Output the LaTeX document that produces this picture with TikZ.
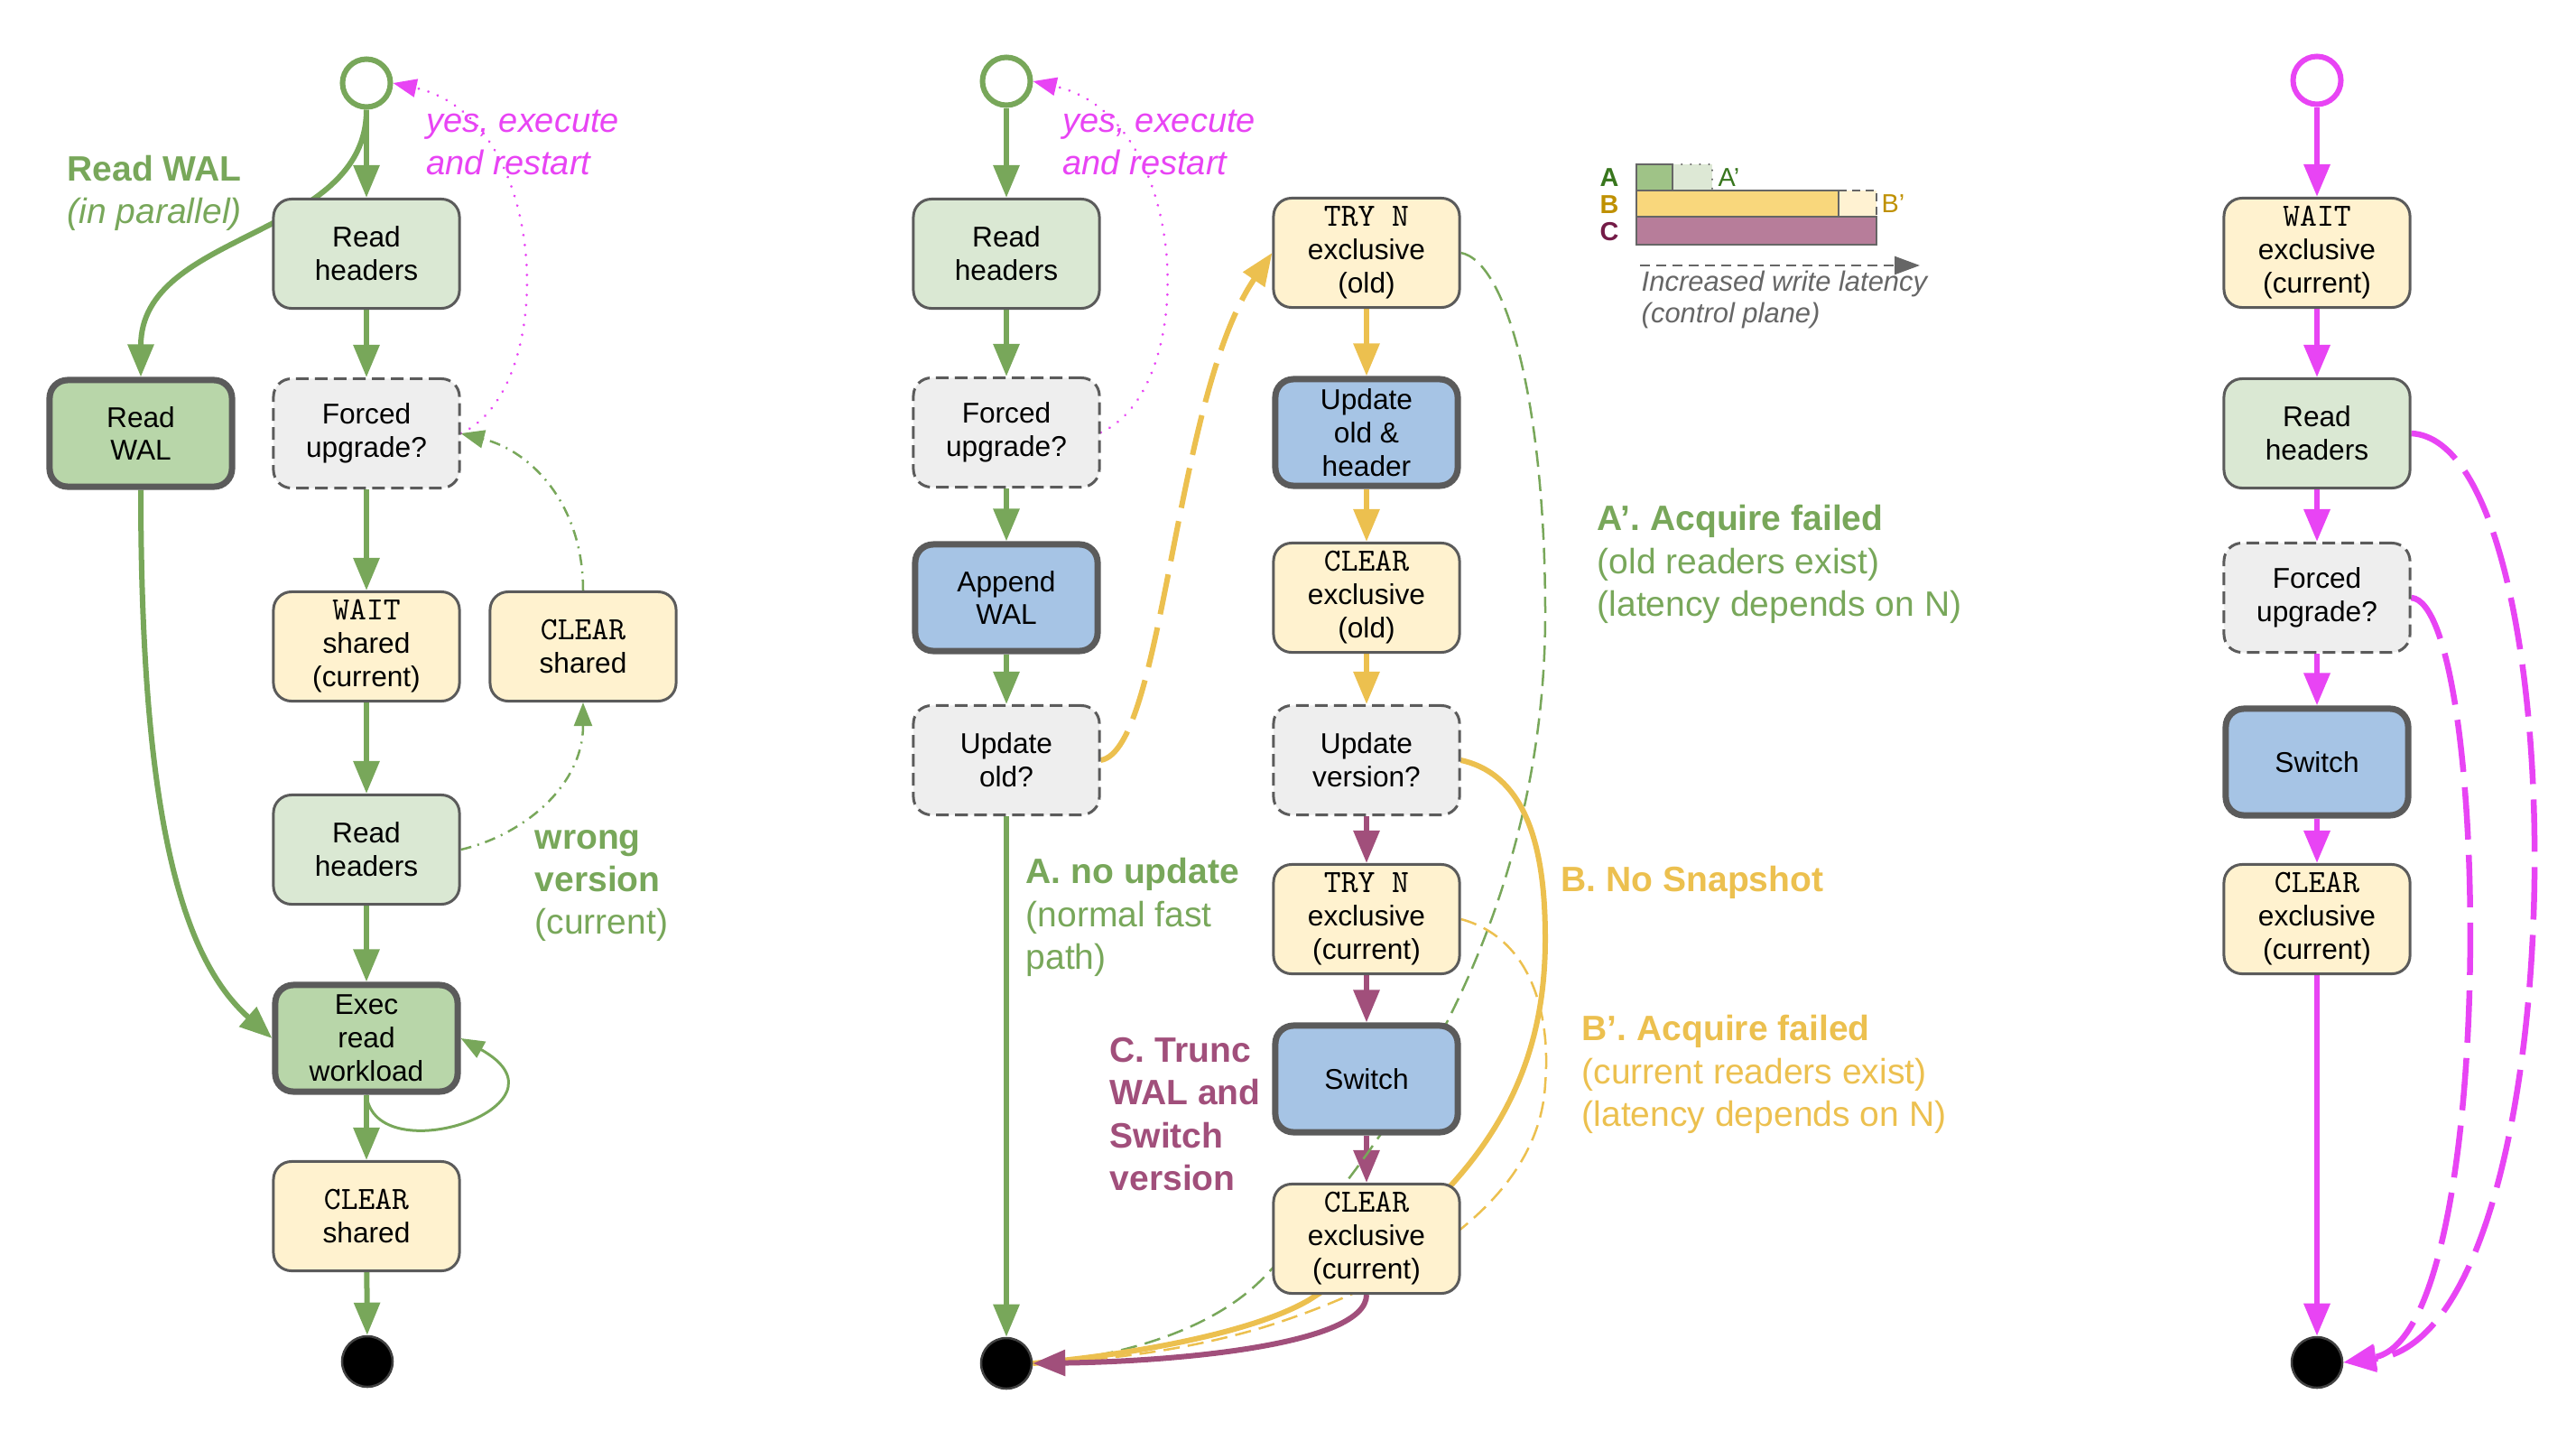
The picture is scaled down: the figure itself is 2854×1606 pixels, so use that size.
\documentclass[tikz,border=0pt]{standalone}
\usepackage{fontspec}
\setmainfont{Liberation Sans}
\usetikzlibrary{arrows.meta}

\definecolor{cgreen}{HTML}{78A75A}
\definecolor{cmag}{HTML}{E844F4}
\definecolor{cyel}{HTML}{ECC04F}
\definecolor{cpur}{HTML}{A14F7B}
\definecolor{bordergray}{HTML}{5B5B5B}
\definecolor{lgreen}{HTML}{DAE8D3}
\definecolor{mgreen}{HTML}{B8D6A9}
\definecolor{lyellow}{HTML}{FFF2CF}
\definecolor{lblue}{HTML}{A6C4E5}
\definecolor{lgray}{HTML}{EEEEEE}
\definecolor{legA}{HTML}{9FC387}
\definecolor{legAlt}{HTML}{DDE8D5}
\definecolor{legB}{HTML}{F9D77C}
\definecolor{legBlt}{HTML}{FFF2D2}
\definecolor{legC}{HTML}{B77D9A}
\definecolor{darkA}{HTML}{38761D}
\definecolor{darkB}{HTML}{BF9000}
\definecolor{darkC}{HTML}{741B47}
\definecolor{legtext}{HTML}{666666}

\newcommand\bxfont{\fontsize{9}{10.5}\selectfont}
\newcommand\annfont{\fontsize{11.1}{13.5}\selectfont}
\newcommand\magfont{\fontsize{10.8}{13.4}\selectfont\itshape}
\newcommand\legfont{\fontsize{8.8}{10}\selectfont\itshape}
% lock operation keyword, typewriter face
\newcommand\lockop[1]{{\fontsize{10.2}{10.5}\selectfont\ttfamily #1}}

\pgfdeclarelayer{edges}
\pgfsetlayers{edges,main}

\begin{document}
\begin{tikzpicture}[x=0.01cm,y=-0.01cm,
  box/.style={draw=bordergray, line width=0.03cm, rounded corners=0.2cm,
    minimum width=2.06cm, minimum height=1.21cm, inner sep=0pt,
    align=center, font=\bxfont, text=black},
  readbox/.style={box, fill=lgreen},
  walbox/.style={box, fill=mgreen, line width=0.07cm, minimum width=2.02cm, minimum height=1.18cm},
  bluebox/.style={box, fill=lblue, line width=0.07cm, minimum width=2.02cm, minimum height=1.18cm},
  lockbox/.style={box, fill=lyellow},
  askbox/.style={box, fill=lgray, dash pattern=on 0.14cm off 0.07cm},
  startnode/.style={circle, draw=#1, line width=0.06cm, fill=white, minimum size=0.53cm, inner sep=0pt},
  endnode/.style={circle, draw=black!75, line width=0.025cm, fill=black, minimum size=0.56cm, inner sep=0pt},
  bigtip/.style={-{Triangle[length=0.36cm,width=0.28cm]}},
  smalltip/.style={-{Triangle[length=0.26cm,width=0.2cm]}},
  garrow/.style={draw=cgreen, line width=0.06cm, bigtip},
  yarrow/.style={draw=cyel, line width=0.06cm, bigtip},
  parrow/.style={draw=cpur, line width=0.06cm, bigtip},
  marrow/.style={draw=cmag, line width=0.065cm, bigtip},
  mdashed/.style={draw=cmag, line width=0.065cm, dash pattern=on 0.58cm off 0.17cm, bigtip},
  restartline/.style={draw=cmag, line width=0.03cm, line cap=round, dash pattern=on 0.001cm off 0.11cm, smalltip},
  retryline/.style={draw=cgreen, line width=0.025cm, dash pattern=on 0.12cm off 0.07cm on 0.02cm off 0.07cm, smalltip},
  loopline/.style={draw=cgreen, line width=0.03cm, smalltip},
  failgreen/.style={draw=cgreen, line width=0.025cm, dash pattern=on 0.18cm off 0.09cm},
  failyellow/.style={draw=cyel, line width=0.025cm, dash pattern=on 0.18cm off 0.09cm},
  note/.style={anchor=west, inner sep=0pt, align=left},
  legline/.style={draw=legtext, line width=0.025cm}
]
\useasboundingbox (0,0) rectangle (2854,1606);

% ---------- reader path ----------
\node[startnode=cgreen] (L0) at (406,92) {};
\node[readbox] (Lrh) at (406,281) {Read\\headers};
\node[walbox] (Lwal) at (156,480) {Read\\WAL};
\node[askbox] (Lfu) at (406,480) {Forced\\upgrade?};
\node[lockbox] (Lws) at (406,716) {\lockop{WAIT}\\shared\\(current)};
\node[lockbox] (Lcs2) at (646,716) {\lockop{CLEAR}\\shared};
\node[readbox] (Lrh2) at (406,941) {Read\\headers};
\node[walbox] (Lex) at (406,1150) {Exec\\read\\workload};
\node[lockbox] (Lcs) at (406,1347) {\lockop{CLEAR}\\shared};
\node[endnode] (L1) at (407,1508) {};

\node[note, text=cgreen, font=\annfont] (lblwal) at (74,214) {\textbf{Read WAL}\\\textit{(in parallel)}};
\node[note, text=cmag, font=\magfont] (lblrestartL) at (472,158) {yes, execute\\and restart};
\node[note, text=cgreen, font=\annfont] (lblwrong) at (592,981) {\textbf{wrong}\\\textbf{version}\\(current)};

% ---------- writer path ----------
\node[startnode=cgreen] (M0) at (1115,90) {};
\node[readbox] (Mrh) at (1115,281) {Read\\headers};
\node[askbox] (Mfu) at (1115,479) {Forced\\upgrade?};
\node[bluebox] (Maw) at (1115,662) {Append\\WAL};
\node[askbox] (Muo) at (1115,842) {Update\\old?};
\node[endnode] (M1) at (1115,1510) {};

\node[lockbox] (Mtry) at (1514,280) {\lockop{TRY N}\\exclusive\\(old)};
\node[bluebox] (Mupd) at (1514,479) {Update\\old \&\\header};
\node[lockbox] (Mclo) at (1514,662) {\lockop{CLEAR}\\exclusive\\(old)};
\node[askbox] (Muv) at (1514,842) {Update\\version?};
\node[lockbox] (Mtrc) at (1514,1018) {\lockop{TRY N}\\exclusive\\(current)};
\node[bluebox] (Msw) at (1514,1195) {Switch};
\node[lockbox] (Mclc) at (1514,1372) {\lockop{CLEAR}\\exclusive\\(current)};

\node[note, text=cmag, font=\magfont] (lblrestartM) at (1177,158) {yes, execute\\and restart};
\node[note, text=cgreen, font=\annfont] (lblA) at (1136,1016) {\textbf{A. no update}\\(normal fast\\path)};
\node[note, text=cpur, font=\annfont\bfseries] (lblC) at (1229,1234) {C. Trunc\\WAL and\\Switch\\version};
\node[note, text=cgreen, font=\annfont] (lblAp) at (1769,625) {\textbf{A’. Acquire failed}\\(old readers exist)\\(latency depends on N)};
\node[note, text=cyel, font=\annfont\bfseries] (lblB) at (1729,977) {B. No Snapshot};
\node[note, text=cyel, font=\annfont] (lblBp) at (1752,1190) {\textbf{B’. Acquire failed}\\(current readers exist)\\(latency depends on N)};

% ---------- forced switch path ----------
\node[startnode=cmag] (R0) at (2567,89) {};
\node[lockbox] (Rwe) at (2567,280) {\lockop{WAIT}\\exclusive\\(current)};
\node[readbox] (Rrh) at (2567,480) {Read\\headers};
\node[askbox] (Rfu) at (2567,662) {Forced\\upgrade?};
\node[bluebox] (Rsw) at (2567,844) {Switch};
\node[lockbox] (Rce) at (2567,1018) {\lockop{CLEAR}\\exclusive\\(current)};
\node[endnode] (R1) at (2567,1509) {};

% ---------- latency legend ----------
\fill[legAlt] (1853,182) rectangle (1897,211);
\draw[legline, line cap=round, dash pattern=on 0.001cm off 0.1cm] (1853,182) -- (1897,182) -- (1897,211);
\fill[legBlt] (2037,211) rectangle (2079,240);
\draw[legline, dash pattern=on 0.09cm off 0.06cm] (2037,211) -- (2079,211) -- (2079,240);
\draw[legline, fill=legA] (1813,182) rectangle (1853,211);
\draw[legline, fill=legB] (1813,211) rectangle (2037,240);
\draw[legline, fill=legC] (1813,240) rectangle (2079,271);
\node[font=\fontsize{8.2}{9}\selectfont\bfseries, text=darkA] (legLabA) at (1783,197) {A};
\node[font=\fontsize{8.2}{9}\selectfont\bfseries, text=darkB] (legLabB) at (1783,227) {B};
\node[font=\fontsize{8.2}{9}\selectfont\bfseries, text=darkC] (legLabC) at (1783,257) {C};
\node[note, font=\fontsize{8.2}{9}\selectfont, text=darkA] (legLabAp) at (1903,197) {A’};
\node[note, font=\fontsize{8.2}{9}\selectfont, text=darkB] (legLabBp) at (2084,226) {B’};
\coordinate (latS) at (1817,294);
\coordinate (latE) at (2127,294);
\draw[draw=legtext, line width=0.025cm, dash pattern=on 0.11cm off 0.07cm,
  -{Triangle[length=0.28cm,width=0.2cm]}] (latS) -- (latE);
\node[note, font=\legfont, text=legtext] (latText) at (1818,332) {Increased write latency\\(control plane)};

% ---------- connectors ----------
\begin{pgfonlayer}{edges}
  % reader path
  \draw[garrow] (L0) -- (Lrh);
  \draw[garrow] (Lrh) -- (Lfu);
  \draw[garrow] (Lfu) -- (Lws);
  \draw[garrow] (Lws) -- (Lrh2);
  \draw[garrow] (Lrh2) -- (Lex);
  \draw[garrow] (Lex) -- (Lcs);
  \draw[garrow] (Lcs) -- (L1);
  \draw[garrow] (L0.south) .. controls (406,265) and (156,255) .. (Lwal.north);
  \draw[garrow] (Lwal.south) .. controls (156,900) and (200,1060) .. (Lex.west);
  \draw[restartline] (Lfu.east) .. controls (620,430) and (610,130) .. (L0.east);
  \draw[retryline] (Lrh2.east) .. controls (580,925) and (646,870) .. (Lcs2.south);
  \draw[retryline] (Lcs2.north) .. controls (646,560) and (590,500) .. (Lfu.east);
  \draw[loopline] (Lex.south) .. controls (415,1300) and (645,1225) .. (Lex.east);

  % writer path, left
  \draw[garrow] (M0) -- (Mrh);
  \draw[garrow] (Mrh) -- (Mfu);
  \draw[garrow] (Mfu) -- (Maw);
  \draw[garrow] (Maw) -- (Muo);
  \draw[garrow] (Muo) -- (M1);
  \draw[restartline] (Mfu.east) .. controls (1330,430) and (1320,130) .. (M0.east);
  \draw[yarrow, dash pattern=on 0.45cm off 0.15cm] (Muo.east) .. controls (1290,830) and (1300,440) .. (Mtry.west);

  % writer path, right
  \draw[yarrow] (Mtry) -- (Mupd);
  \draw[yarrow] (Mupd) -- (Mclo);
  \draw[yarrow] (Mclo) -- (Muv);
  \draw[parrow] (Muv) -- (Mtrc);
  \draw[parrow] (Mtrc) -- (Msw);
  \draw[parrow] (Msw) -- (Mclc);

  \draw[failgreen] (Mtry.east) .. controls (1670,290) and (1712,450) .. (1712,680)
    .. controls (1712,1000) and (1560,1250) .. (1400,1415)
    .. controls (1340,1477) and (1230,1505) .. (M1.east);
  \draw[failyellow] (Mtrc.east) .. controls (1700,1040) and (1718,1130) .. (1712,1200)
    .. controls (1706,1330) and (1560,1420) .. (1400,1470)
    .. controls (1300,1500) and (1200,1508) .. (M1.east);
  \draw[draw=cyel, line width=0.06cm] (Muv.east) .. controls (1700,860) and (1712,960) .. (1712,1040)
    .. controls (1712,1200) and (1640,1320) .. (1450,1440)
    .. controls (1390,1475) and (1260,1500) .. (M1.east);
  \draw[parrow] (Mclc.south) .. controls (1514,1490) and (1300,1508) .. (M1.east);

  % forced switch path
  \draw[marrow] (R0) -- (Rwe);
  \draw[marrow] (Rwe) -- (Rrh);
  \draw[marrow] (Rrh) -- (Rfu);
  \draw[marrow] (Rfu) -- (Rsw);
  \draw[marrow] (Rsw) -- (Rce);
  \draw[marrow] (Rce) -- (R1);
  \draw[mdashed] (Rrh.east) .. controls (2860,490) and (2860,1480) .. (R1.east);
  \draw[mdashed] (Rfu.east) .. controls (2760,670) and (2770,1480) .. (R1.east);
\end{pgfonlayer}
\end{tikzpicture}
\end{document}
